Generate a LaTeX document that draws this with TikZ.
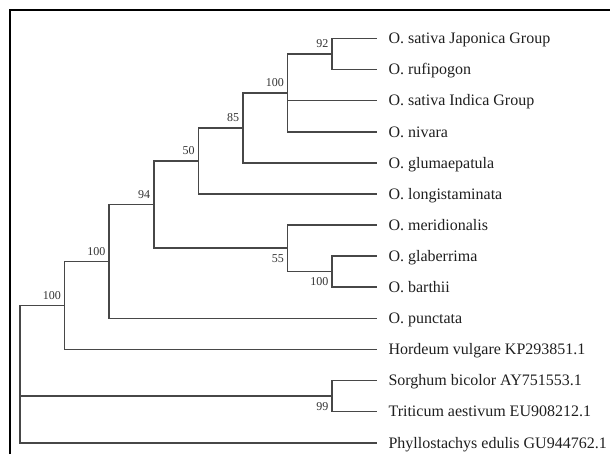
\documentclass[tikz,border=0pt]{standalone}
\usepackage{fontspec}
\setmainfont{Liberation Serif}
\begin{document}
\begin{tikzpicture}[x=0.75pt,y=-0.75pt,
  branch/.style={draw=black!72, line width=1.1pt},
  leaf/.style={anchor=west, inner xsep=8.6pt, inner ysep=0pt, text height=7.9pt, text depth=0pt, font=\fontsize{12}{14}\selectfont, text=black!88},
  bsa/.style={anchor=south east, inner sep=0pt, font=\fontsize{9}{10}\selectfont, text=black!80},
  bsb/.style={anchor=north east, inner sep=0pt, font=\fontsize{9}{10}\selectfont, text=black!80}]
\useasboundingbox (0,0) rectangle (610,454);
\draw[black, line width=1.5pt] (10,454) -- (10,10) -- (610,10);
% leaves
\node[leaf] (l1) at (376.8,38.5) {O. sativa Japonica Group};
\node[leaf] (l2) at (376.8,69.6) {O. rufipogon};
\node[leaf] (l3) at (376.8,100.7) {O. sativa Indica Group};
\node[leaf] (l4) at (376.8,131.8) {O. nivara};
\node[leaf] (l5) at (376.8,162.9) {O. glumaepatula};
\node[leaf] (l6) at (376.8,194) {O. longistaminata};
\node[leaf] (l7) at (376.8,225) {O. meridionalis};
\node[leaf] (l8) at (376.8,256) {O. glaberrima};
\node[leaf] (l9) at (376.8,287) {O. barthii};
\node[leaf] (l10) at (376.8,318.3) {O. punctata};
\node[leaf] (l11) at (376.8,349.5) {Hordeum vulgare KP293851.1};
\node[leaf] (l12) at (376.8,380.6) {Sorghum bicolor AY751553.1};
\node[leaf] (l13) at (376.8,411.7) {Triticum aestivum EU908212.1};
\node[leaf] (l14) at (376.8,442.8) {Phyllostachys edulis GU944762.1};
% internal nodes
\coordinate (n92) at (332.2,54.05);
\coordinate (n100a) at (287.6,92.9);
\coordinate (n85) at (243,127.9);
\coordinate (n50) at (198.4,161);
\coordinate (n100b) at (332.2,271.5);
\coordinate (n55) at (287.6,248.2);
\coordinate (n94) at (153.8,204.6);
\coordinate (n100c) at (109.2,261.5);
\coordinate (n100d) at (64.6,305.5);
\coordinate (n99) at (332.2,396.2);
\coordinate (root) at (20,396.2);
% branches
\draw[branch] (n92) |- (l1.west);
\draw[branch] (n92) |- (l2.west);
\draw[branch] (n100a) |- (n92);
\draw[branch] (n100a) |- (l3.west);
\draw[branch] (n100a) |- (l4.west);
\draw[branch] (n85) |- (n100a);
\draw[branch] (n85) |- (l5.west);
\draw[branch] (n50) |- (n85);
\draw[branch] (n50) |- (l6.west);
\draw[branch] (n100b) |- (l8.west);
\draw[branch] (n100b) |- (l9.west);
\draw[branch] (n55) |- (l7.west);
\draw[branch] (n55) |- (n100b);
\draw[branch] (n94) |- (n50);
\draw[branch] (n94) |- (n55);
\draw[branch] (n100c) |- (n94);
\draw[branch] (n100c) |- (l10.west);
\draw[branch] (n100d) |- (n100c);
\draw[branch] (n100d) |- (l11.west);
\draw[branch] (n99) |- (l12.west);
\draw[branch] (n99) |- (l13.west);
\draw[branch] (root) |- (n100d);
\draw[branch] (root) -- (n99);
\draw[branch] (root) |- (l14.west);
% bootstrap values
\node[bsa] (b92) at ([shift={(-3.5,-6)}]n92) {92};
\node[bsa] (b100a) at ([shift={(-3.5,-6)}]n100a) {100};
\node[bsa] (b85) at ([shift={(-3.5,-6)}]n85) {85};
\node[bsa] (b50) at ([shift={(-3.5,-6)}]n50) {50};
\node[bsa] (b94) at ([shift={(-3.5,-6)}]n94) {94};
\node[bsa] (b100c) at ([shift={(-3.5,-6)}]n100c) {100};
\node[bsa] (b100d) at ([shift={(-3.5,-6)}]n100d) {100};
\node[bsb] (b55) at ([shift={(-3.5,6)}]n55) {55};
\node[bsb] (b100b) at ([shift={(-3.5,6)}]n100b) {100};
\node[bsb] (b99) at ([shift={(-3.5,6)}]n99) {99};
\end{tikzpicture}
\end{document}
